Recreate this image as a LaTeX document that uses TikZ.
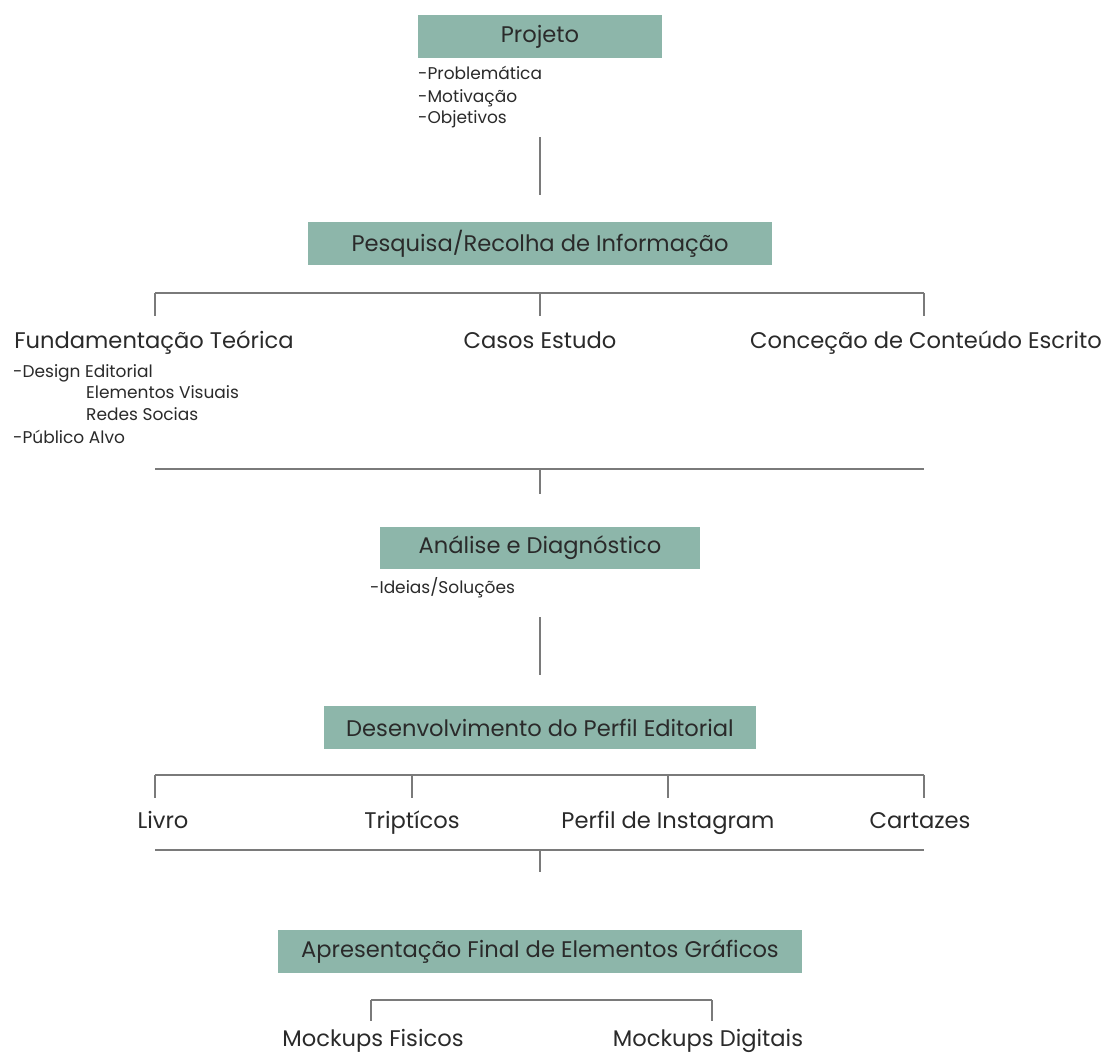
\documentclass[tikz,border=0pt]{standalone}
\usepackage{fontspec}
\setmainfont{Poppins}
\definecolor{boxfill}{HTML}{8DB6AA}
\definecolor{txt}{HTML}{2A2A2A}
\definecolor{ln}{HTML}{7A7A7A}
\begin{document}
\begin{tikzpicture}[x=1pt,y=-1pt,
  stage/.style={rectangle, fill=boxfill, inner sep=0pt, text=txt, font=\fontsize{22.6}{26}\selectfont},
  item/.style={anchor=base, text=txt, inner sep=0pt, font=\fontsize{22.6}{26}\selectfont},
  sub/.style={anchor=base west, text=txt, inner sep=0pt, font=\fontsize{17}{20}\selectfont},
  conn/.style={draw=ln, line width=1.3pt}]
\useasboundingbox[fill=white] (0,0) rectangle (1108,1057);

% stage boxes
\node[stage, minimum width=244pt, minimum height=43pt] (proj) at (540,36.5) {Projeto};
\node[stage, minimum width=464pt, minimum height=43pt] (pesq) at (540,243.5) {Pesquisa/Recolha de Informação};
\node[stage, minimum width=320pt, minimum height=42pt] (anal) at (540,547.5) {Análise e Diagnóstico};
\node[stage, minimum width=432pt, minimum height=43pt] (desen) at (540,727.5) {Desenvolvimento do Perfil Editorial};
\node[stage, minimum width=524pt, minimum height=43pt] (apres) at (540,951.5) {Apresentação Final de Elementos Gráficos};

% sub-items
\node[sub] (p1) at (418,80) {-Problemática};
\node[sub] (p2) at (418,102) {-Motivação};
\node[sub] (p3) at (418,123.5) {-Objetivos};

\node[item] (fund) at (154,348) {Fundamentação Teórica};
\node[item] (casos) at (540,348) {Casos Estudo};
\node[item] (conc) at (926,348) {Conceção de Conteúdo Escrito};

\node[sub] (f1) at (13,377) {-Design Editorial};
\node[sub] (f2) at (86,398.5) {Elementos Visuais};
\node[sub] (f3) at (86,420.5) {Redes Socias};
\node[sub] (f4) at (13,443) {-Público Alvo};

\node[sub] (a1) at (370,593) {-Ideias/Soluções};

\node[item] (livro) at (163,828) {Livro};
\node[item] (trip) at (412,828) {Triptícos};
\node[item] (insta) at (668,828) {Perfil de Instagram};
\node[item] (cart) at (920,828) {Cartazes};

\node[item] (mfis) at (373,1046) {Mockups Fisicos};
\node[item] (mdig) at (708,1046) {Mockups Digitais};

% junction coordinates
\coordinate (j1a) at (540,137);
\coordinate (j1b) at (540,195);
\coordinate (b1l) at (155,293);
\coordinate (b1m) at (540,293);
\coordinate (b1r) at (924,293);
\coordinate (m1l) at (155,469);
\coordinate (m1m) at (540,469);
\coordinate (m1r) at (924,469);
\coordinate (m1d) at (540,494);
\coordinate (j2a) at (540,617);
\coordinate (j2b) at (540,675);
\coordinate (b2a) at (155,775);
\coordinate (b2b) at (412,775);
\coordinate (b2c) at (668,775);
\coordinate (b2d) at (924,775);
\coordinate (m2l) at (155,850);
\coordinate (m2m) at (540,850);
\coordinate (m2r) at (924,850);
\coordinate (m2d) at (540,872);
\coordinate (b3l) at (371,1000);
\coordinate (b3r) at (712,1000);

% connectors
\draw[conn] (j1a) -- (j1b);
\draw[conn] (b1l) -- (b1r);
\draw[conn] (b1l) -- ++(0,23);
\draw[conn] (b1m) -- ++(0,23);
\draw[conn] (b1r) -- ++(0,23);
\draw[conn] (m1l) -- (m1r);
\draw[conn] (m1m) -- (m1d);
\draw[conn] (j2a) -- (j2b);
\draw[conn] (b2a) -- (b2d);
\draw[conn] (b2a) -- ++(0,23);
\draw[conn] (b2b) -- ++(0,23);
\draw[conn] (b2c) -- ++(0,23);
\draw[conn] (b2d) -- ++(0,23);
\draw[conn] (m2l) -- (m2r);
\draw[conn] (m2m) -- (m2d);
\draw[conn] (b3l) -- (b3r);
\draw[conn] (b3l) -- ++(0,21);
\draw[conn] (b3r) -- ++(0,21);
\end{tikzpicture}
\end{document}
